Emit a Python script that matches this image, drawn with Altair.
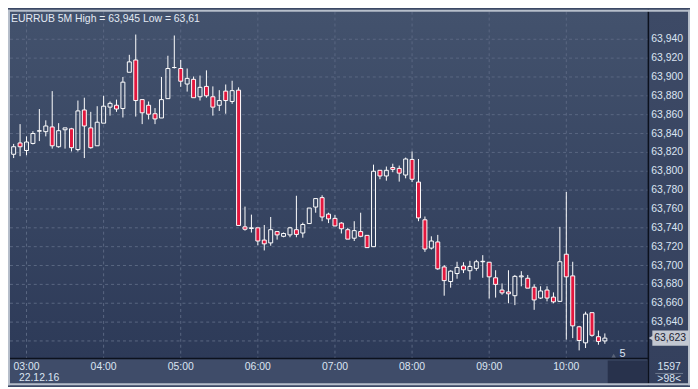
import altair as alt
import pandas as pd

# ---------------- data ----------------
times = ["02:50", "02:55",
         "03:00", "03:05", "03:10", "03:15", "03:20", "03:25", "03:30", "03:35", "03:40", "03:45", "03:50", "03:55",
         "04:00", "04:05", "04:10", "04:15", "04:20", "04:25", "04:30", "04:35", "04:40", "04:45", "04:50", "04:55",
         "05:00", "05:05", "05:10", "05:15", "05:20", "05:25", "05:30", "05:35", "05:40", "05:45", "05:50", "05:55",
         "06:00", "06:05", "06:10", "06:15", "06:20", "06:25", "06:30", "06:35", "06:40", "06:45", "06:50", "06:55",
         "07:00", "07:05", "07:10", "07:15", "07:20", "07:25", "07:30", "07:35", "07:40", "07:45", "07:50", "07:55",
         "08:00", "08:05", "08:10", "08:15", "08:20", "08:25", "08:30", "08:35", "08:40", "08:45", "08:50", "08:55",
         "09:00", "09:05", "09:10", "09:15", "09:20", "09:25", "09:30", "09:35", "09:40", "09:45", "09:50", "09:55",
         "10:00", "10:05", "10:10", "10:15", "10:20", "10:25", "10:30"]

opens = [63.818, 63.830,
         63.822, 63.8295, 63.8425, 63.842, 63.847, 63.826, 63.844, 63.845, 63.823, 63.865, 63.846, 63.827,
         63.851, 63.868, 63.870, 63.8665, 63.905, 63.918, 63.876, 63.870, 63.861, 63.8565, 63.877, 63.910,
         63.909, 63.8925, 63.8975, 63.879, 63.890, 63.879, 63.870, 63.885, 63.874, 63.886, 63.741, 63.7393,
         63.740, 63.727, 63.724, 63.736, 63.731, 63.7325, 63.738, 63.7345, 63.7445, 63.762, 63.772, 63.7545,
         63.750, 63.745, 63.738, 63.729, 63.736, 63.732, 63.720, 63.801, 63.795, 63.804, 63.803, 63.796,
         63.8125, 63.7885, 63.7485, 63.7185, 63.725, 63.6985, 63.683, 63.6915, 63.6995, 63.6945, 63.697, 63.704,
         63.7035, 63.687, 63.674, 63.672, 63.668, 63.688, 63.6865, 63.677, 63.6655, 63.674, 63.6665, 63.662,
         63.712, 63.689, 63.635, 63.618, 63.650, 63.6245, 63.620]

highs = [63.829, 63.850,
         63.837, 63.8425, 63.866, 63.854, 63.885, 63.851, 63.846, 63.846, 63.875, 63.878, 63.863, 63.869,
         63.880, 63.874, 63.876, 63.900, 63.9235, 63.945, 63.876, 63.874, 63.867, 63.900, 63.9225, 63.944,
         63.918, 63.909, 63.9005, 63.9015, 63.907, 63.890, 63.886, 63.892, 63.896, 63.889, 63.7625, 63.754,
         63.740, 63.743, 63.7515, 63.736, 63.735, 63.741, 63.774, 63.7455, 63.761, 63.771, 63.7745, 63.756,
         63.7535, 63.746, 63.740, 63.747, 63.756, 63.732, 63.807, 63.801, 63.805, 63.808, 63.806, 63.8145,
         63.821, 63.813, 63.752, 63.731, 63.7325, 63.7005, 63.695, 63.704, 63.7035, 63.705, 63.706, 63.711,
         63.7035, 63.695, 63.681, 63.695, 63.690, 63.694, 63.690, 63.680, 63.678, 63.678, 63.6715, 63.741,
         63.778, 63.704, 63.636, 63.651, 63.650, 63.631, 63.628]

lows = [63.814, 63.816,
        63.817, 63.8285, 63.832, 63.837, 63.824, 63.825, 63.824, 63.821, 63.821, 63.814, 63.824, 63.827,
        63.851, 63.859, 63.863, 63.857, 63.905, 63.858, 63.850, 63.855, 63.850, 63.8565, 63.877, 63.909,
        63.8895, 63.8845, 63.878, 63.875, 63.878, 63.859, 63.864, 63.861, 63.8715, 63.7425, 63.737, 63.735,
        63.7215, 63.716, 63.721, 63.7275, 63.730, 63.730, 63.730, 63.7295, 63.7445, 63.756, 63.747, 63.745,
        63.742, 63.734, 63.728, 63.726, 63.730, 63.719, 63.720, 63.7915, 63.790, 63.799, 63.789, 63.7925,
        63.7885, 63.747, 63.7145, 63.717, 63.6955, 63.668, 63.6765, 63.686, 63.692, 63.685, 63.6945, 63.687,
        63.665, 63.666, 63.669, 63.660, 63.658, 63.678, 63.676, 63.653, 63.6645, 63.662, 63.660, 63.6615,
        63.6215, 63.623, 63.610, 63.6125, 63.6245, 63.616, 63.617]

closes = [63.826, 63.826,
          63.831, 63.840, 63.843, 63.848, 63.827, 63.843, 63.846, 63.825, 63.864, 63.848, 63.825, 63.852,
          63.869, 63.872, 63.866, 63.8945, 63.916, 63.875, 63.862, 63.8605, 63.8555, 63.876, 63.909, 63.910,
          63.8955, 63.8985, 63.878, 63.889, 63.880, 63.868, 63.875, 63.875, 63.8855, 63.7425, 63.7385, 63.740,
          63.726, 63.723, 63.738, 63.7325, 63.734, 63.740, 63.733, 63.7435, 63.761, 63.771, 63.7515, 63.7495,
          63.742, 63.739, 63.728, 63.737, 63.731, 63.719, 63.800, 63.795, 63.801, 63.802, 63.798, 63.813,
          63.7915, 63.7505, 63.7175, 63.726, 63.6965, 63.684, 63.694, 63.698, 63.6955, 63.699, 63.704, 63.7045,
          63.688, 63.680, 63.671, 63.670, 63.6885, 63.689, 63.676, 63.6635, 63.673, 63.6655, 63.6615, 63.704,
          63.688, 63.636, 63.6205, 63.6485, 63.626, 63.6195, 63.623]

x_tick_labels = ["03:00", "04:00", "05:00", "06:00", "07:00", "08:00", "09:00", "10:00"]
x_tick_minutes = [0, 60, 120, 180, 240, 300, 360, 420]
y_grid_values = [63.62, 63.64, 63.66, 63.68, 63.70, 63.72, 63.74, 63.76, 63.78,
                 63.80, 63.82, 63.84, 63.86, 63.88, 63.90, 63.92, 63.94]
y_label_values = y_grid_values[1:]

title_text = "EURRUB 5M High = 63,945 Low = 63,61"
date_text = "22.12.16"
counter_text = "5"
info_top = "1597"
info_bottom = ">98<"

# ---------------- layout ----------------
W, H = 644, 350
PL, PT, PR, PB = 2, 2, 42, 27

FONT = "Liberation Sans"
LABEL = "#dbe4f2"
RED = "#e3173e"

minutes = [(int(t[:2]) - 3) * 60 + int(t[3:]) for t in times]
df = pd.DataFrame({"t": minutes, "time": times, "open": opens, "high": highs,
                   "low": lows, "close": closes})
df["top"] = df[["open", "close"]].max(axis=1)
df["bot"] = df[["open", "close"]].min(axis=1)
df["up"] = df["close"] >= df["open"]

xscale = alt.Scale(domain=[-9, 480], nice=False, zero=False)
yscale = alt.Scale(domain=[63.6013, 63.9693], nice=False, zero=False)

one = alt.Data(values=[{"a": 1}])

bg = alt.Chart(one).mark_rect(
    color=alt.Gradient(gradient="linear",
                       stops=[alt.GradientStop(color="#43526d", offset=0),
                              alt.GradientStop(color="#2d3a58", offset=1)],
                       x1=0, x2=0, y1=0, y2=1)
).encode(x=alt.value(0), x2=alt.value(W), y=alt.value(0), y2=alt.value(H))

right_col = alt.Chart(one).mark_rect(
    color=alt.Gradient(gradient="linear",
                       stops=[alt.GradientStop(color="#3d4a66", offset=0),
                              alt.GradientStop(color="#34405d", offset=1)],
                       x1=0, x2=0, y1=0, y2=1)
).encode(x=alt.value(W), x2=alt.value(W + PR), y=alt.value(-PT), y2=alt.value(H + PB))
bottom_band = alt.Chart(one).mark_rect(color="#3f4c69").encode(
    x=alt.value(-PL), x2=alt.value(W), y=alt.value(H), y2=alt.value(H + PB))
dark_box = alt.Chart(one).mark_rect(color="#28324c").encode(
    x=alt.value(W - 41), x2=alt.value(W - 1), y=alt.value(H + 2), y2=alt.value(H + PB - 1))

ygrid = alt.Chart(pd.DataFrame({"v": y_grid_values})).mark_rule(
    color="#5a6782", strokeDash=[3, 3], strokeWidth=1
).encode(y=alt.Y("v:Q", scale=yscale, axis=None), x=alt.value(0), x2=alt.value(W))
xgrid = alt.Chart(pd.DataFrame({"m": x_tick_minutes})).mark_rule(
    color="#5a6782", strokeDash=[3, 3], strokeWidth=1
).encode(x=alt.X("m:Q", scale=xscale, axis=None), y=alt.value(0), y2=alt.value(H))

# axis labels as text marks driven by the scales
ylabels = alt.Chart(pd.DataFrame({"v": y_label_values})).transform_calculate(
    lbl="replace(format(datum.v, '.3f'), '.', ',')"
).mark_text(font=FONT, fontSize=10.5, color=LABEL, align="left", baseline="middle").encode(
    y=alt.Y("v:Q", scale=yscale, axis=None), x=alt.value(W + 3), text="lbl:N")
xlabels = alt.Chart(pd.DataFrame({"m": x_tick_minutes, "lbl": x_tick_labels})).mark_text(
    font=FONT, fontSize=10.5, color=LABEL, align="center", baseline="middle").encode(
    x=alt.X("m:Q", scale=xscale, axis=None), y=alt.value(H + 9), text="lbl:N")

base = alt.Chart(df)

upper = base.mark_rule(color="white", strokeWidth=1, clip=True).encode(
    x=alt.X("t:Q", scale=xscale, axis=None),
    y=alt.Y("high:Q", scale=yscale, axis=None),
    y2="top:Q")
lower = base.mark_rule(color="white", strokeWidth=1, clip=True).encode(
    x=alt.X("t:Q", scale=xscale, axis=None),
    y=alt.Y("bot:Q", scale=yscale, axis=None),
    y2="low:Q")
bodies = base.mark_bar(size=4, stroke="white", strokeWidth=1, clip=True).encode(
    x=alt.X("t:Q", scale=xscale, axis=None),
    y=alt.Y("open:Q", scale=yscale, axis=None),
    y2="close:Q",
    fill=alt.condition("datum.up", alt.value("transparent"), alt.value(RED)))

vline = alt.Chart(one).mark_rule(color="#0c111d", strokeWidth=1.5).encode(
    x=alt.value(W), y=alt.value(-PT), y2=alt.value(H + PB))
hline = alt.Chart(one).mark_rule(color="#0c111d", strokeWidth=1.5).encode(
    x=alt.value(-PL), x2=alt.value(W), y=alt.value(H))
frame_color = "#b7bfcb"
frame = [
    alt.Chart(one).mark_rect(color=frame_color).encode(
        x=alt.value(-PL), x2=alt.value(W + PR), y=alt.value(-PT), y2=alt.value(0)),
    alt.Chart(one).mark_rect(color=frame_color).encode(
        x=alt.value(-PL), x2=alt.value(0), y=alt.value(-PT), y2=alt.value(H + PB)),
    alt.Chart(one).mark_rect(color=frame_color).encode(
        x=alt.value(W + PR - 2), x2=alt.value(W + PR), y=alt.value(-PT), y2=alt.value(H + PB)),
    alt.Chart(one).mark_rect(color=frame_color).encode(
        x=alt.value(-PL), x2=alt.value(W + PR), y=alt.value(H + PB - 2), y2=alt.value(H + PB)),
]

last = alt.Chart(alt.Data(values=[{"c": closes[-1]}])).transform_calculate(
    hi="datum.c + 0.0081", lo="datum.c - 0.0081",
    lbl="replace(format(datum.c, '.3f'), '.', ',')")
tag = last.mark_rect(color="#c3c8d1").encode(
    y=alt.Y("hi:Q", scale=yscale, axis=None), y2="lo:Q",
    x=alt.value(W + 4), x2=alt.value(W + PR - 1))
tag_arrow = last.mark_point(shape="triangle-left", filled=True, color="#c3c8d1",
                            size=70, opacity=1).encode(
    y=alt.Y("c:Q", scale=yscale, axis=None), x=alt.value(W + 4))
tag_text = last.mark_text(font=FONT, fontSize=10.5, color="#1c2232", align="center",
                          baseline="middle").encode(
    y=alt.Y("c:Q", scale=yscale, axis=None), x=alt.value(W + 22), text="lbl:N")

title = alt.Chart(one).mark_text(text=title_text, font=FONT, fontSize=10.5, color="#e2e9f3",
                                 align="left", baseline="middle").encode(
    x=alt.value(1), y=alt.value(7))
date = alt.Chart(one).mark_text(text=date_text, font=FONT, fontSize=10.5, color=LABEL,
                                align="left", baseline="middle").encode(
    x=alt.value(9), y=alt.value(H + 20))
counter_tri = alt.Chart(one).mark_point(shape="triangle-up", filled=True, color="#5b6579",
                                        size=20, opacity=1).encode(
    x=alt.value(W - 35), y=alt.value(H - 3))
counter = alt.Chart(one).mark_text(text=counter_text, font=FONT, fontSize=11, color=LABEL,
                                   align="left", baseline="middle").encode(
    x=alt.value(W - 29), y=alt.value(H - 5))
info1 = alt.Chart(one).mark_text(text=info_top, font=FONT, fontSize=10.5, color=LABEL,
                                 align="center", baseline="middle").encode(
    x=alt.value(W + 21), y=alt.value(H + 9))
info_sep = alt.Chart(one).mark_rule(color="#6f7b91", strokeWidth=1).encode(
    x=alt.value(W + 7), x2=alt.value(W + 35), y=alt.value(H + 15))
info2 = alt.Chart(one).mark_text(text=info_bottom, font=FONT, fontSize=10.5, color=LABEL,
                                 align="center", baseline="middle").encode(
    x=alt.value(W + 21), y=alt.value(H + 21))

chart = alt.layer(
    right_col, bottom_band, dark_box, bg, ygrid, xgrid,
    upper, lower, bodies,
    vline, hline, *frame,
    ylabels, xlabels,
    tag, tag_arrow, tag_text,
    title, date, counter_tri, counter, info1, info_sep, info2
).properties(
    width=W, height=H,
    autosize=alt.AutoSizeParams(type="none"),
    padding={"left": PL, "top": PT, "right": PR, "bottom": PB},
    background="#3b4865"
).configure_view(stroke=None)

chart.save("out.html", embed_options={"renderer": "svg", "actions": False})
